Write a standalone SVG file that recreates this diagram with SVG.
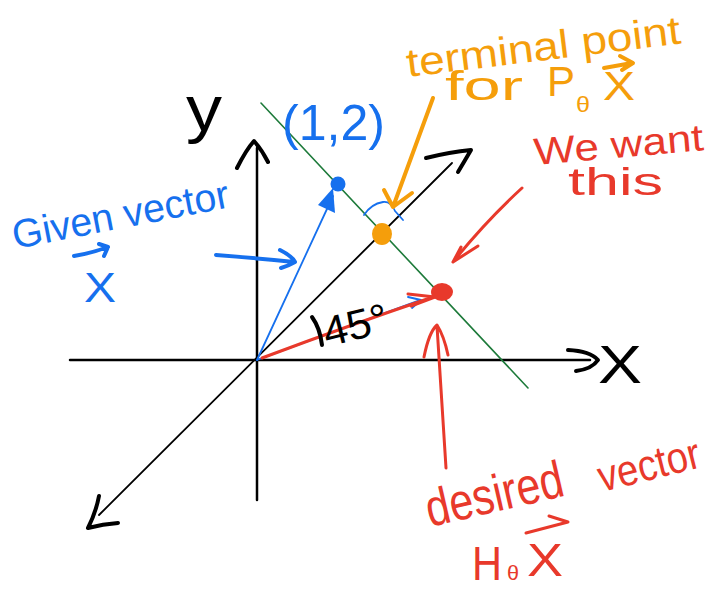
<svg xmlns="http://www.w3.org/2000/svg" width="721" height="592" viewBox="0 0 721 592">
<style>
.ax{fill:none;stroke:#000;stroke-width:2.5;stroke-linecap:round;stroke-linejoin:round}
.thin{fill:none;stroke:#000;stroke-width:1.8;stroke-linecap:round}
.hk{fill:none;stroke:#000;stroke-width:4;stroke-linecap:round;stroke-linejoin:round}
.bl{fill:none;stroke:#1670ee;stroke-width:1.8;stroke-linecap:round;stroke-linejoin:round}
.blk{fill:none;stroke:#1670ee;stroke-width:4;stroke-linecap:round;stroke-linejoin:round}
.rd{fill:none;stroke:#e8392b;stroke-width:3;stroke-linecap:round;stroke-linejoin:round}
.or{fill:none;stroke:#f59e0b;stroke-width:4;stroke-linecap:round;stroke-linejoin:round}
.gr{fill:none;stroke:#1d7a3a;stroke-width:1.6;stroke-linecap:round}
text{font-family:"Liberation Sans",Arial,sans-serif}
.tb{fill:#000}.tbl{fill:#1670ee}.tor{fill:#f59e0b}.trd{fill:#e8392b}
</style>

<g id="axes">
  <line class="ax" x1="70" y1="360" x2="590" y2="360"/>
  <path class="hk" d="M568,350 Q590,351 598,360 Q592,369 576,371"/>
  <line class="ax" x1="257" y1="148" x2="257" y2="500"/>
  <path class="hk" d="M237,168 Q246,150 254,141 Q262,150 268,162"/>
  <line class="thin" x1="99" y1="515" x2="452" y2="163"/>
  <path class="hk" d="M99,496 Q96,512 88,528 Q103,524 118,523"/>
  <path class="hk" d="M426,158 Q450,152 471,150 Q464,162 458,172"/>
  <line class="gr" x1="261" y1="103" x2="528" y2="388"/>
</g>

<g id="labels-axes">
  <text class="tb" x="186" y="131" font-size="64" textLength="36" lengthAdjust="spacingAndGlyphs">y</text>
  <text class="tb" x="598" y="383" font-size="54" textLength="44" lengthAdjust="spacingAndGlyphs">X</text>
</g>

<g id="given-vector">
  <line class="bl" x1="257" y1="360" x2="333" y2="196"/>
  <path d="M318,205 L335,213 L333,188 Z" fill="#1670ee"/>
  <circle cx="338" cy="184" r="7.5" fill="#1670ee"/>
  <text class="tbl" x="282" y="140" font-size="50" textLength="103" lengthAdjust="spacingAndGlyphs">(1,2)</text>
  <text class="tbl" x="15" y="249" font-size="40" textLength="220" lengthAdjust="spacingAndGlyphs" transform="rotate(-11 15 249)">Given vector</text>
  <path class="blk" d="M74,256 Q92,253 108,247 M99,244 L108,247 L104,256"/>
  <text class="tbl" x="84" y="302" font-size="42" textLength="32" lengthAdjust="spacingAndGlyphs">X</text>
  <path class="blk" d="M216,255 Q255,258 294,262 M280,250 Q292,256 295,262 Q288,266 281,268"/>
</g>

<g id="projection">
  <ellipse cx="382" cy="234" rx="10" ry="11" fill="#f59e0b"/>
  <path class="bl" d="M364,215 Q371,204 383,202 Q391,201 395,211 L403,220"/>
  <path class="or" d="M433,98 L393,207 M384,190 L393,207 L412,193"/>
  <text class="tor" x="408" y="77" font-size="40" textLength="276" lengthAdjust="spacingAndGlyphs" transform="rotate(-7 408 77)">terminal point</text>
  <text class="tor" x="445" y="100" font-size="40" textLength="78" lengthAdjust="spacingAndGlyphs">for</text>
  <text class="tor" x="547" y="96" font-size="42" textLength="28" lengthAdjust="spacingAndGlyphs">P</text>
  <text class="tor" x="576" y="112" font-size="22" textLength="14" lengthAdjust="spacingAndGlyphs">θ</text>
  <text class="tor" x="603" y="100" font-size="40" textLength="32" lengthAdjust="spacingAndGlyphs">X</text>
  <path class="or" d="M604,68 L632,63 M620,56 L633,63 L622,70"/>
</g>

<g id="desired-vector">
  <line class="bl" x1="257" y1="360" x2="420" y2="300"/>
  <path class="bl" d="M408,297 L421,300 L412,308"/>
  <path class="rd" d="M262,358 Q350,325 433,297"/>
  <path class="rd" d="M408,294 L435,297 L411,306"/>
  <ellipse cx="442" cy="292" rx="11" ry="9" fill="#e8392b"/>
  <path class="hk" d="M312,317 Q320,328 322,345"/>
  <text class="tb" x="327" y="347" font-size="42" textLength="66" lengthAdjust="spacingAndGlyphs" transform="rotate(-14 327 347)">45°</text>
  <path class="rd" d="M522,188 Q485,222 453,262 M461,247 L453,262 L478,246"/>
  <text class="trd" x="535" y="165" font-size="38" textLength="170" lengthAdjust="spacingAndGlyphs" transform="rotate(-5 535 165)">We want</text>
  <text class="trd" x="568" y="195" font-size="38" textLength="95" lengthAdjust="spacingAndGlyphs">this</text>
  <path class="rd" d="M446,468 L437,326 M424,357 Q429,332 437,325 Q444,336 448,355"/>
  <text class="trd" x="430" y="527" font-size="52" textLength="140" lengthAdjust="spacingAndGlyphs" transform="rotate(-13 430 527)">desired</text>
  <text class="trd" x="602" y="492" font-size="44" textLength="104" lengthAdjust="spacingAndGlyphs" transform="rotate(-14 602 492)">vector</text>
  <text class="trd" x="472" y="580" font-size="48" textLength="30" lengthAdjust="spacingAndGlyphs">H</text>
  <text class="trd" x="507" y="580" font-size="20" textLength="12" lengthAdjust="spacingAndGlyphs">θ</text>
  <text class="trd" x="527" y="576" font-size="46" textLength="36" lengthAdjust="spacingAndGlyphs">X</text>
  <path class="rd" d="M526,533 L568,522 L549,516"/>
</g>
</svg>
